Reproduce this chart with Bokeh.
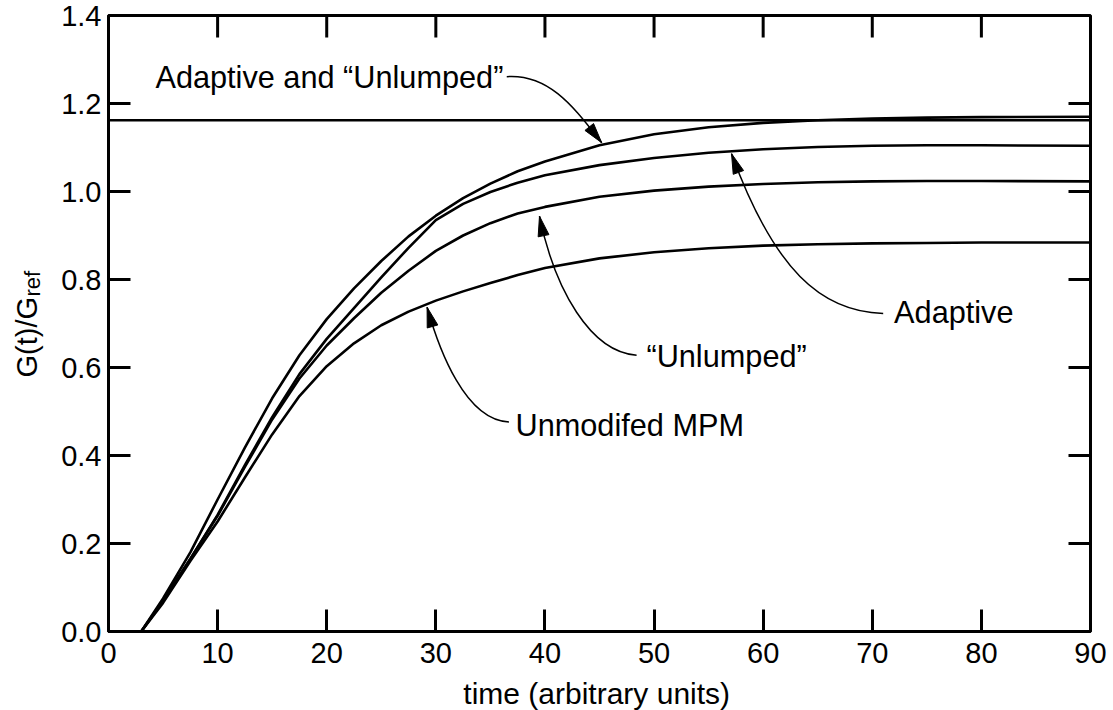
import numpy as np
from bokeh.plotting import figure
from bokeh.layouts import row, column
from bokeh.models import Span, FixedTicker, NumeralTickFormatter, Range1d
from bokeh.core.properties import value
from bokeh.embed import file_html
from bokeh.resources import INLINE

# ---------------- data ----------------
t_vals = [3, 5, 7.5, 10, 12.5, 15, 17.5, 20, 22.5, 25, 27.5, 30, 32.5, 35, 37.5, 40,
          45, 50, 55, 60, 65, 70, 75, 80, 90]
adaptive_unlumped = [0.0, 0.075, 0.18, 0.30, 0.418, 0.53, 0.628, 0.71, 0.78, 0.842,
                     0.898, 0.945, 0.985, 1.018, 1.046, 1.068, 1.105, 1.13, 1.146,
                     1.156, 1.162, 1.166, 1.168, 1.169, 1.17]
adaptive = [0.0, 0.07, 0.165, 0.265, 0.378, 0.487, 0.585, 0.665, 0.735, 0.805,
            0.872, 0.935, 0.972, 0.999, 1.02, 1.037, 1.06, 1.076, 1.088, 1.096,
            1.101, 1.104, 1.105, 1.105, 1.104]
unlumped = [0.0, 0.07, 0.165, 0.263, 0.374, 0.482, 0.575, 0.65, 0.712, 0.77,
            0.82, 0.865, 0.90, 0.928, 0.95, 0.965, 0.988, 1.002, 1.011, 1.017,
            1.021, 1.023, 1.024, 1.024, 1.023]
unmodified = [0.0, 0.065, 0.16, 0.25, 0.35, 0.448, 0.535, 0.603, 0.655, 0.696,
              0.727, 0.752, 0.773, 0.792, 0.81, 0.826, 0.848, 0.862, 0.871,
              0.877, 0.88, 0.882, 0.883, 0.884, 0.884]
reference_level = 1.162

x_ticks = [0, 10, 20, 30, 40, 50, 60, 70, 80, 90]
y_ticks = [0.0, 0.2, 0.4, 0.6, 0.8, 1.0, 1.2, 1.4]
x_label = "time (arbitrary units)"
y_label_main = "G(t)/G"
y_label_sub = "ref"

# annotation texts
ann_texts = ["Adaptive and \u201cUnlumped\u201d", "Adaptive", "\u201cUnlumped\u201d", "Unmodifed MPM"]
ann_tx = [4.3, 72.0, 49.3, 37.3]
ann_ty = [1.259, 0.726, 0.624, 0.469]
# leader curves (start, control1, control2, tip) in data units
ann_x0 = [36.5, 71.0, 48.4, 36.7]
ann_y0 = [1.261, 0.723, 0.628, 0.476]
ann_cx0 = [40.5, 65.3, 44.2, 32.7]
ann_cy0 = [1.268, 0.727, 0.635, 0.480]
ann_cx1 = [42.8, 61.0, 40.9, 30.3]
ann_cy1 = [1.186, 0.822, 0.776, 0.640]
ann_x1 = [45.2, 57.1, 39.5, 29.2]
ann_y1 = [1.111, 1.086, 0.944, 0.737]

FONT = "Liberation Sans"
# page geometry (body margin is 0 in Bokeh's page template)
YL_W = 58            # width of the y-title strip
P_W, P_H = 1052, 677
BL, BR, BT, BB = 50, 20, 15, 46
FW, FH = P_W - BL - BR, P_H - BT - BB
XR, YR = (0, 90), (0, 1.4)
PX = FW / (XR[1] - XR[0])
PY = FH / (YR[1] - YR[0])
TOTAL_H = 710

p = figure(width=P_W, height=P_H, x_range=XR, y_range=YR, title=None,
           output_backend="svg", toolbar_location=None,
           min_border_left=BL, min_border_right=BR, min_border_top=BT,
           min_border_bottom=BB)
p.background_fill_color = "white"
p.border_fill_color = "white"
p.grid.visible = False
p.outline_line_color = "black"
p.outline_line_width = 3


def style_axis(ax, ticks, fmt, standoff):
    ax.ticker = FixedTicker(ticks=ticks)
    ax.formatter = NumeralTickFormatter(format=fmt)
    ax.major_tick_in = 22
    ax.major_tick_out = 0
    ax.minor_tick_line_color = None
    ax.major_tick_line_width = 3
    ax.major_tick_line_color = "black"
    ax.axis_line_width = 3
    ax.axis_line_color = "black"
    ax.major_label_text_font = FONT
    ax.major_label_text_color = "black"
    ax.major_label_text_font_size = "29px"
    ax.major_label_standoff = standoff


style_axis(p.xaxis[0], x_ticks, "0", 11)
style_axis(p.yaxis[0], y_ticks, "0.0", 7)

# mirrored inward ticks on the top and right edges
p.ray(x=x_ticks[1:-1], y=[YR[1]] * (len(x_ticks) - 2), length=22, length_units="screen",
      angle=-np.pi / 2, line_color="black", line_width=3)
p.ray(x=[XR[1]] * (len(y_ticks) - 2), y=y_ticks[1:-1], length=22, length_units="screen",
      angle=np.pi, line_color="black", line_width=3)

# reference level
p.add_layout(Span(location=reference_level, dimension="width", line_color="black", line_width=2.5))

for ys in [adaptive_unlumped, adaptive, unlumped, unmodified]:
    p.line(t_vals, ys, line_color="black", line_width=2.6, line_join="round")

# leader curves
p.bezier(x0=ann_x0, y0=ann_y0, x1=ann_x1, y1=ann_y1, cx0=ann_cx0, cy0=ann_cy0,
         cx1=ann_cx1, cy1=ann_cy1, line_color="black", line_width=1.5)

# arrow heads (triangles oriented along the curve end tangent, sized in pixels)
L, W = 20.0, 11.0
hx, hy = [], []
for i in range(len(ann_x1)):
    dx = (ann_x1[i] - ann_cx1[i]) * PX
    dy = (ann_y1[i] - ann_cy1[i]) * PY
    n = np.hypot(dx, dy)
    ux, uy = dx / n, dy / n
    bx, by = -ux * L, -uy * L
    nx, ny = -uy, ux
    pts = [(0, 0), (bx + nx * W / 2, by + ny * W / 2), (bx - nx * W / 2, by - ny * W / 2)]
    hx.append([ann_x1[i] + a / PX for a, b in pts])
    hy.append([ann_y1[i] + b / PY for a, b in pts])
p.patches(hx, hy, fill_color="black", line_color="black", line_width=1)

p.text(x=ann_tx, y=ann_ty, text=ann_texts, text_font=value(FONT),
       text_font_size="30.7px", text_align="left", text_baseline="middle",
       text_color="black")


def blank_fig(w, h, xr, yr):
    f = figure(width=w, height=h, x_range=Range1d(*xr), y_range=Range1d(*yr),
               title=None, output_backend="svg", toolbar_location=None,
               x_axis_type=None, y_axis_type=None, min_border=0,
               min_border_left=0, min_border_right=0, min_border_top=0,
               min_border_bottom=0)
    f.grid.visible = False
    f.outline_line_color = None
    f.background_fill_color = "white"
    f.border_fill_color = "white"
    return f


# y title strip: local pixel coordinates (y measured upward from strip bottom)
yfig = blank_fig(YL_W, TOTAL_H, (0, YL_W), (0, TOTAL_H))
yfig.text(x=[26], y=[TOTAL_H - 377], text=[y_label_main], angle=np.pi / 2,
          text_font=value(FONT), text_font_size="29px", text_align="left",
          text_baseline="alphabetic", text_color="black")
yfig.text(x=[32], y=[TOTAL_H - 296], text=[y_label_sub], angle=np.pi / 2,
          text_font=value(FONT), text_font_size="22px", text_align="left",
          text_baseline="alphabetic", text_color="black")

# x title strip: local pixel coordinates
XF_H = TOTAL_H - P_H
xfig = blank_fig(P_W, XF_H, (0, P_W), (0, XF_H))
xfig.text(x=[BL + FW / 2 - 18], y=[TOTAL_H - 693], text=[x_label],
          text_font=value(FONT), text_font_size="30px", text_align="center",
          text_baseline="middle", text_color="black")

layout = row(yfig, column(p, xfig, spacing=0), spacing=0)
open("out.html", "w").write(file_html(layout, INLINE))
